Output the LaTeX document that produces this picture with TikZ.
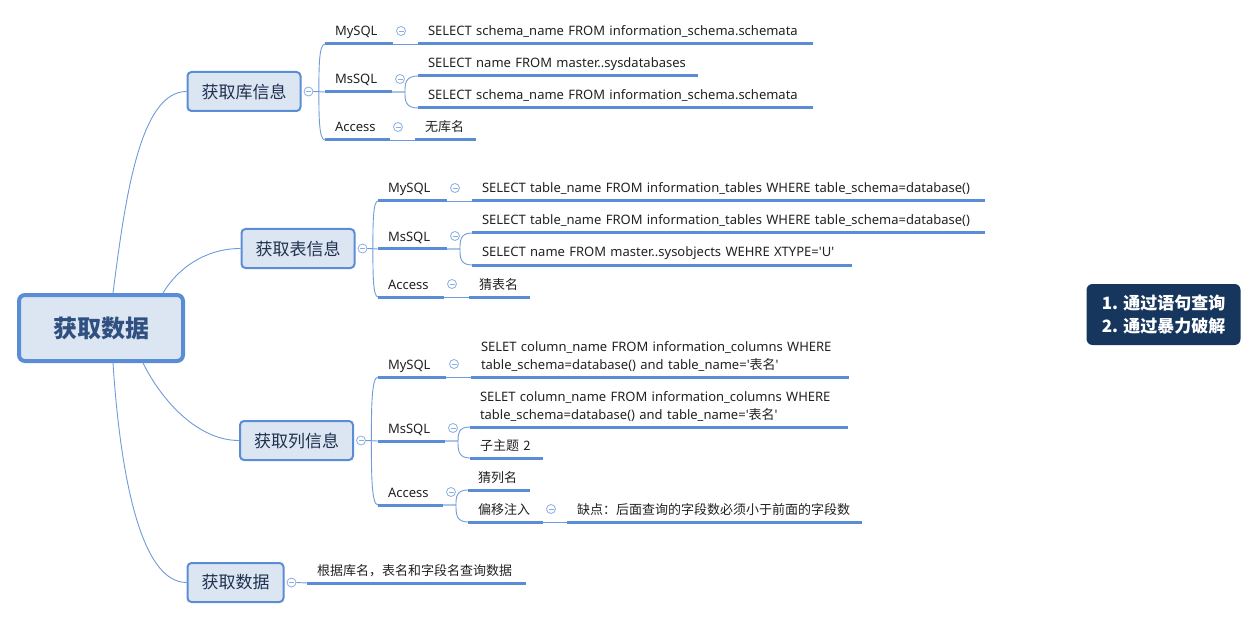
\documentclass[tikz,border=0pt]{standalone}
\usepackage{fontspec}
\setmainfont{Noto Sans}
\newfontfamily\cjk{Noto Sans CJK SC}
\usetikzlibrary{calc}

\definecolor{topicblue}{HTML}{5A8DD6}
\definecolor{topicfill}{HTML}{DCE6F2}
\definecolor{linkblue}{HTML}{6E9BDA}
\definecolor{foldblue}{HTML}{8AAEE2}
\definecolor{roottext}{HTML}{2F5080}
\definecolor{branchtext}{HTML}{1F3050}
\definecolor{notefill}{HTML}{17365D}

\tikzset{
  centertopic/.style={rounded corners=6pt, draw=topicblue, line width=4pt, fill=topicfill,
    minimum width=164pt, minimum height=66pt, inner sep=0pt, text=roottext,
    font=\cjk\bfseries\fontsize{24}{28}\selectfont},
  maintopic/.style={rounded corners=4pt, draw=topicblue, line width=2pt, fill=topicfill,
    minimum height=39pt, inner xsep=14pt, inner ysep=0pt, text=branchtext,
    font=\cjk\fontsize{17}{20}\selectfont},
  subtopic/.style={anchor=south west, text width=#1, inner xsep=10pt, inner ysep=0pt,
    outer sep=0pt, text depth=8pt, align=left, text=black!87,
    font=\fontsize{13}{18}\selectfont,
    append after command={(\tikzlastnode.south west) edge[uline] (\tikzlastnode.south east)}},
  twolines/.style={text depth=26pt},
  uline/.style={draw=topicblue, line width=3pt},
  conn/.style={draw=linkblue, line width=0.9pt},
  fold/.style={circle, draw=foldblue, fill=white, line width=0.8pt, minimum size=9pt, inner sep=0pt,
    path picture={\draw[foldblue, line width=0.8pt] ([xshift=-2.5pt]path picture bounding box.center)
      -- ([xshift=2.5pt]path picture bounding box.center);}},
  note/.style={rounded corners=6pt, fill=notefill, text=white, minimum width=154pt, minimum height=61pt,
    align=left, font=\cjk\bfseries\fontsize{17}{23}\selectfont}
}

\begin{document}
\begin{tikzpicture}[x=1pt, y=-1pt]
\useasboundingbox (0,0) rectangle (1257,620);

% topics
\node[centertopic] (root) at (101,328) {获取数据};
\node[maintopic] (b1) at (244,91.5) {获取库信息};
\node[maintopic] (b2) at (298,248.5) {获取表信息};
\node[maintopic] (b3) at (296.5,440.5) {获取列信息};
\node[maintopic] (b4) at (235.5,582.5) {获取数据};

\draw[conn] ([xshift=12pt]root.north) .. controls +(12,-93) and +(-47,0) .. (b1.west);
\draw[conn] ([xshift=62pt]root.north) .. controls +(15,-25) and +(-35,0) .. (b2.west);
\draw[conn] ([xshift=42pt]root.south) .. controls +(20,40) and +(-40,0) .. (b3.west);
\draw[conn] ([xshift=12pt]root.south) .. controls +(7,107) and +(-47,0) .. (b4.west);

\foreach \b/\c in {b1/c1, b2/c2, b3/c3, b4/c4}
  \node[fold] (\c) at ([xshift=7pt]\b.east) {};

% library info
\node[subtopic=48pt] (my1) at (325,44) {MySQL};
\node[subtopic=47pt] (ms1) at (325,92) {MsSQL};
\node[subtopic=45pt] (ac1) at (325,140) {Access};
\node[subtopic=375pt] (my1q) at (418,44) {SELECT schema\_name FROM information\_schema.schemata};
\node[subtopic=260pt] (ms1a) at (418,76) {SELECT name FROM master..sysdatabases};
\node[subtopic=375pt] (ms1b) at (418,108) {SELECT schema\_name FROM information\_schema.schemata};
\node[subtopic=41pt] (ac1a) at (415,140) {{\cjk 无库名}};

% table info
\node[subtopic=49pt] (my2) at (378,201) {MySQL};
\node[subtopic=49pt] (ms2) at (378,249) {MsSQL};
\node[subtopic=46pt] (ac2) at (378,297) {Access};
\node[subtopic=493pt] (my2q) at (472,201) {SELECT table\_name FROM information\_tables WHERE table\_schema=database()};
\node[subtopic=493pt] (ms2a) at (472,233) {SELECT table\_name FROM information\_tables WHERE table\_schema=database()};
\node[subtopic=360pt] (ms2b) at (472,265) {SELECT name FROM master..sysobjects WEHRE XTYPE=\textquotesingle U\textquotesingle};
\node[subtopic=41pt] (ac2a) at (469,297) {{\cjk 猜表名}};

% column info
\node[subtopic=48pt] (my3) at (378,377) {MySQL};
\node[subtopic=47pt] (ms3) at (378,441) {MsSQL};
\node[subtopic=45pt] (ac3) at (378,505) {Access};
\node[subtopic=358pt, twolines] (my3q) at (471,377) {SELET column\_name FROM information\_columns WHERE\\table\_schema=database() and table\_name=\textquotesingle{\cjk 表名}\textquotesingle};
\node[subtopic=358pt, twolines] (ms3a) at (470,427) {SELET column\_name FROM information\_columns WHERE\\table\_schema=database() and table\_name=\textquotesingle{\cjk 表名}\textquotesingle};
\node[subtopic=53pt] (ms3b) at (470,458) {{\cjk 子主题 2}};
\node[subtopic=42pt] (ac3a) at (468,490) {{\cjk 猜列名}};
\node[subtopic=55pt] (ac3b) at (468,522) {{\cjk 偏移注入}};
\node[subtopic=275pt] (ac3c) at (567,522) {{\cjk 缺点：后面查询的字段数必须小于前面的字段数}};

% data
\node[subtopic=199pt] (d4) at (307,583) {{\cjk 根据库名，表名和字段名查询数据}};

\foreach \n in {my1, ms1, ac1, my2, ms2, ac2, my3, ms3, ac3, ac3b}
  \node[fold] (f-\n) at ([xshift=8pt,yshift=13pt]\n.south east) {};

% connectors
\foreach \c/\k in {c1/ms1, c2/ms2, c3/ms3, c4/d4}
  \draw[conn] (\c.east) -- (\k.south west);
\foreach \c/\k in {c1/my1, c1/ac1, c2/my2, c2/ac2, c3/my3, c3/ac3}
  \draw[conn] (\c.east) -- ++(5.5,0) coordinate (s)
    .. controls ($(s)!.5!(s |- \k.south west)$) and (s |- \k.south west) .. (\k.south west);
\foreach \p/\k in {ms1/ms1a, ms1/ms1b, ms2/ms2a, ms2/ms2b, ms3/ms3a, ms3/ms3b, ac3/ac3a, ac3/ac3b}
  \draw[conn] (\p.south east) -- ++(13,0) coordinate (s)
    .. controls ($(s)!.5!(s |- \k.south west)$) and (s |- \k.south west) .. (\k.south west);
\foreach \p/\k in {my1/my1q, ac1/ac1a, my2/my2q, ac2/ac2a, my3/my3q, ac3b/ac3c}
  \draw[conn] (\p.south east) -- (\k.south west);

\node[note] (note) at (1163.5,314.5) {1. 通过语句查询\\2. 通过暴力破解};
\end{tikzpicture}
\end{document}
